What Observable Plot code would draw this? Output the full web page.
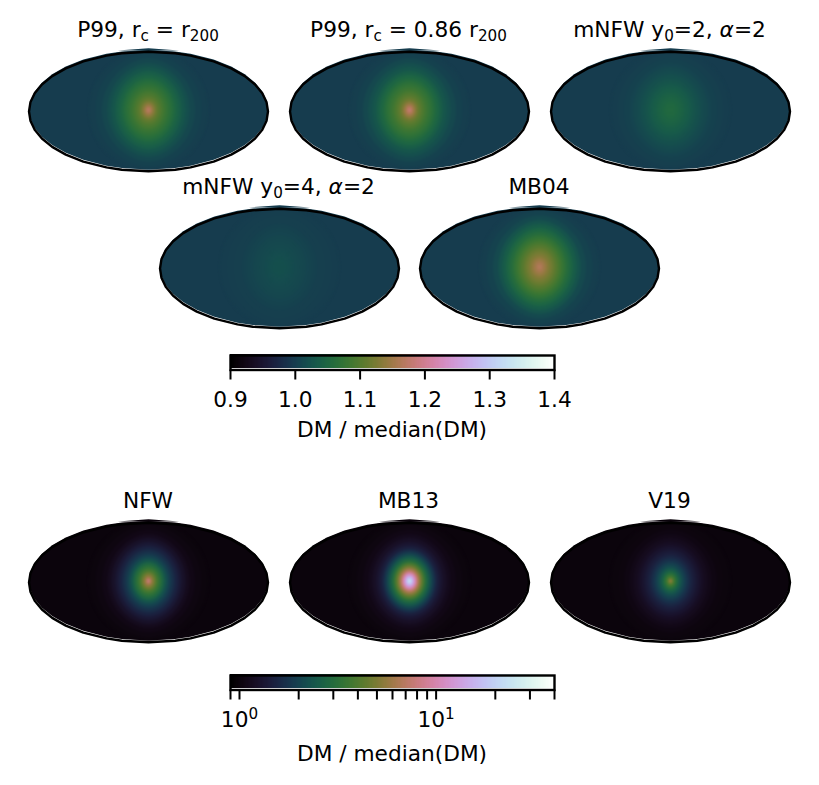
<!DOCTYPE html>
<html>
<head>
<meta charset="utf-8">
<script src="https://cdn.jsdelivr.net/npm/d3@7"></script>
<script src="https://cdn.jsdelivr.net/npm/@observablehq/plot@0.6"></script>
<style>
  body { margin: 0; background: #fff; }
  #page { position: relative; width: 819px; height: 785px; overflow: hidden; font-family: "DejaVu Sans"; color: #000; }
  .panel { position: absolute; }
  .title, .cblabel { position: absolute; font-size: 21.7px; line-height: 24px; white-space: nowrap; transform: translateX(-50%); }
  sub { font-size: 15.2px; line-height: 0; vertical-align: -4px; }
</style>
</head>
<body>
<div id="page"></div>
<script>
// angular distance from the map centre (degrees) of each ring, outermost first
var ringRadii = [90, 80, 70, 62, 56, 50, 45, 40, 36, 32, 28, 24, 21, 18, 15, 12, 10, 8, 6, 4, 2];

// DM / median(DM) at those radii
var p99Values   = [1.001, 1.005, 1.011, 1.019, 1.027, 1.037, 1.046, 1.055, 1.063, 1.071, 1.079, 1.087, 1.093, 1.100, 1.108, 1.118, 1.127, 1.137, 1.148, 1.160, 1.170];
var p99bValues  = [1.001, 1.005, 1.012, 1.020, 1.028, 1.038, 1.048, 1.057, 1.066, 1.074, 1.082, 1.090, 1.097, 1.104, 1.113, 1.124, 1.134, 1.145, 1.157, 1.169, 1.180];
var mnfw2Values = [1.000, 1.002, 1.005, 1.008, 1.012, 1.016, 1.020, 1.024, 1.028, 1.032, 1.036, 1.039, 1.042, 1.045, 1.047, 1.049, 1.051, 1.052, 1.053, 1.054, 1.055];
var mnfw4Values = [1.000, 1.001, 1.002, 1.003, 1.005, 1.007, 1.008, 1.010, 1.011, 1.013, 1.014, 1.015, 1.016, 1.017, 1.018, 1.019, 1.019, 1.020, 1.020, 1.021, 1.021];
var mb04Values  = [1.001, 1.006, 1.014, 1.025, 1.036, 1.048, 1.059, 1.070, 1.080, 1.090, 1.100, 1.109, 1.116, 1.123, 1.130, 1.138, 1.143, 1.149, 1.155, 1.160, 1.165];

var nfwValues   = [1.01, 1.03, 1.07, 1.14, 1.24, 1.36, 1.50, 1.66, 1.82, 2.03, 2.30, 2.65, 2.95, 3.30, 3.70, 4.20, 4.60, 5.10, 5.70, 6.60, 7.80];
var mb13Values  = [1.01, 1.03, 1.07, 1.13, 1.21, 1.32, 1.46, 1.70, 2.00, 2.38, 2.85, 3.50, 4.20, 5.10, 6.40, 8.20, 9.90, 12.2, 15.0, 18.8, 23.0];
var v19Values   = [1.01, 1.02, 1.05, 1.09, 1.14, 1.20, 1.28, 1.37, 1.46, 1.57, 1.72, 1.90, 2.05, 2.25, 2.50, 2.80, 3.05, 3.40, 3.80, 4.40, 5.50];

var topBase = 0.999;
var bottomBase = 1.0;

var topDomain = [0.9, 1.4];
var bottomDomain = [0.9, 40];
var topTicks = [0.9, 1.0, 1.1, 1.2, 1.3, 1.4];
var bottomTicks = [0.9, 1, 2, 3, 4, 5, 6, 7, 8, 9, 10, 20, 30, 40];

var cbLabel = "DM / median(DM)";

// Mollweide, same formula as d3-geo-projection (not one of the two loaded libs)
function mollweideRaw(lambda, phi) {
  var theta = phi;
  if (Math.abs(Math.abs(phi) - Math.PI / 2) < 1e-9) {
    theta = Math.sign(phi) * Math.PI / 2;
  } else {
    var t = 2 * phi, target = Math.PI * Math.sin(phi);
    for (var i = 0; i < 40; i++) {
      var delta = (t + Math.sin(t) - target) / (1 + Math.cos(t));
      t -= delta;
      if (Math.abs(delta) < 1e-9) break;
    }
    theta = t / 2;
  }
  return [2 * Math.SQRT2 / Math.PI * lambda * Math.cos(theta), Math.SQRT2 * Math.sin(theta)];
}

var page = document.getElementById("page");

function addText(cls, html, x, y) {
  var d = document.createElement("div");
  d.className = cls;
  d.style.left = x + "px";
  d.style.top = y + "px";
  d.innerHTML = html;
  page.append(d);
}

function blur(amount) {
  return function (index, scales, values, dimensions, context, next) {
    var g = next(index, scales, values, dimensions, context);
    g.style.filter = "blur(" + amount + "px)";
    return g;
  };
}

function drawMap(cx, cy, title, values, base, colorOptions) {
  var w = 248, h = 128;
  var projection = d3.geoProjection(mollweideRaw).fitExtent([[4.5, 4.25], [w - 4.5, h - 4.25]], { type: "Sphere" });
  var rings = ringRadii.map((r, i) => ({ radius: r, value: values[i] }));
  var chart = Plot.plot({
    width: w,
    height: h,
    margin: 0,
    projection: projection,
    color: colorOptions,
    style: { background: "transparent" },
    marks: [
      // the raster pokes out a little at the pole in the original
      Plot.geo([{ radius: 7, value: base }], {
        geometry: (d) => d3.geoCircle().center([0, 90]).radius(d.radius)(),
        fill: "value",
        dy: -3.4
      }),
      Plot.geo([{ type: "Sphere", value: base }], { fill: "value", dy: -1.8 }),
      Plot.geo(rings, {
        geometry: (d) => d3.geoCircle().center([0, 0]).radius(d.radius)(),
        fill: "value",
        dy: -1.5,
        render: blur(0.8)
      }),
      Plot.sphere({ stroke: "black", strokeWidth: 2.4 })
    ]
  });
  var holder = document.createElement("div");
  holder.className = "panel";
  holder.style.left = cx - w / 2 + "px";
  holder.style.top = cy - h / 2 + "px";
  holder.append(chart);
  page.append(holder);
  addText("title", title, cx, cy - 93);
}

function drawColorbar(top, ramp, colorOptions, ticks, tickFormat) {
  var stops = ramp.slice(0, -1).map((v, i) => ({ x1: v, x2: ramp[i + 1] }));
  var chart = Plot.plot({
    width: 370,
    height: 60,
    marginLeft: 20,
    marginRight: 26,
    marginTop: 5,
    marginBottom: 40.5,
    x: { type: colorOptions.type, domain: colorOptions.domain },
    color: colorOptions,
    style: { background: "transparent", fontFamily: "DejaVu Sans", fontSize: "21.7px", overflow: "visible" },
    marks: [
      Plot.barX(stops, { x1: "x1", x2: "x2", fill: "x1", dy: -1.5, shapeRendering: "crispEdges" }),
      Plot.frame({ stroke: "black", strokeWidth: 2.4 }),
      Plot.axisX({ ticks: ticks, tickFormat: tickFormat, tickSize: 10, tickPadding: 12, strokeWidth: 2, stroke: "black", fill: "black", label: null })
    ]
  });
  // powers of ten: raise the exponent the way matplotlib does
  d3.select(chart).selectAll("text").each(function () {
    var parts = this.textContent.split("^");
    if (parts.length === 2) {
      this.textContent = parts[0];
      d3.select(this).append("tspan").attr("dy", -8).attr("font-size", 15.2).text(parts[1]);
    }
  });
  var holder = document.createElement("div");
  holder.className = "panel";
  holder.style.left = "210px";
  holder.style.top = top - 5 + "px";
  holder.append(chart);
  page.append(holder);
}

var topColor = { type: "linear", domain: topDomain, scheme: "cubehelix" };
var bottomColor = { type: "log", domain: bottomDomain, scheme: "cubehelix" };

drawMap(148, 110.5, "P99, r<sub>c</sub> = r<sub>200</sub>", p99Values, topBase, topColor);
drawMap(408.5, 110.5, "P99, r<sub>c</sub> = 0.86 r<sub>200</sub>", p99bValues, topBase, topColor);
drawMap(669.5, 110.5, "mNFW y<sub>0</sub>=2, <i>α</i>=2", mnfw2Values, topBase, topColor);
drawMap(278.5, 268, "mNFW y<sub>0</sub>=4, <i>α</i>=2", mnfw4Values, topBase, topColor);
drawMap(539, 268, "MB04", mb04Values, topBase, topColor);

drawMap(148, 581.5, "NFW", nfwValues, bottomBase, bottomColor);
drawMap(408.5, 581.5, "MB13", mb13Values, bottomBase, bottomColor);
drawMap(669.5, 581.5, "V19", v19Values, bottomBase, bottomColor);

var topRamp = d3.range(0, 257).map((i) => topDomain[0] + (topDomain[1] - topDomain[0]) * i / 256);
var bottomRamp = d3.range(0, 257).map((i) => bottomDomain[0] * Math.pow(bottomDomain[1] / bottomDomain[0], i / 256));

drawColorbar(355, topRamp, topColor, topTicks, d3.format(".1f"));
addText("cblabel", cbLabel, 392, 418);

drawColorbar(675, bottomRamp, bottomColor, bottomTicks, (d) => (d === 1 ? "10^0" : d === 10 ? "10^1" : ""));
addText("cblabel", cbLabel, 392, 742);
</script>
</body>
</html>
